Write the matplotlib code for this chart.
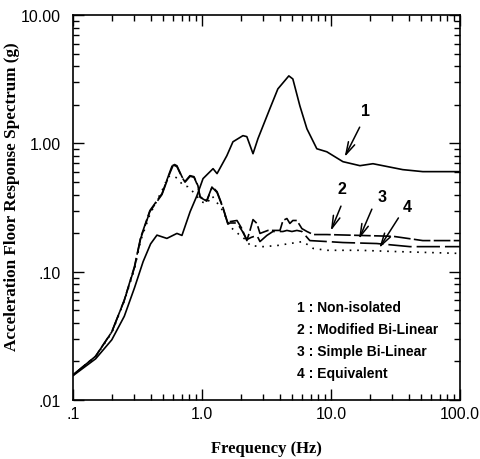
import matplotlib
matplotlib.use("Agg")
import matplotlib.pyplot as plt
from matplotlib.ticker import FixedLocator, FixedFormatter, LogLocator, NullFormatter

# 1 : Non-isolated
f1 = [0.1, 0.15, 0.2, 0.25, 0.3, 0.35, 0.40, 0.448, 0.535, 0.64, 0.70, 0.81, 0.915,
      1.02, 1.22, 1.31, 1.56, 1.74, 2.08, 2.23, 2.49, 2.72, 3.36, 3.88, 4.72, 5.07, 5.75,
      6.52, 7.78, 9.3, 12.4, 16.8, 21.2, 36.1, 51.6, 100.0]
a1 = [0.0155, 0.021, 0.0295, 0.045, 0.075, 0.12, 0.165, 0.193, 0.182, 0.199, 0.192, 0.294, 0.392,
      0.532, 0.636, 0.582, 0.802, 1.03, 1.15, 1.13, 0.832, 1.09, 1.86, 2.66, 3.36, 3.18, 1.96,
      1.30, 0.909, 0.861, 0.721, 0.671, 0.695, 0.625, 0.603, 0.603]

# 2 : Modified Bi-Linear
f2 = [0.1, 0.15, 0.2, 0.25, 0.3, 0.335, 0.395, 0.49, 0.565, 0.596, 0.64, 0.70, 0.738,
      0.808, 0.867, 0.931, 0.964, 1.09, 1.20, 1.31, 1.45, 1.59, 1.65, 1.87, 2.04, 2.23, 2.36,
      2.49, 2.67, 2.82, 3.25, 4.03, 4.25, 4.56, 4.81, 5.07, 5.45, 5.96, 6.52, 7.3, 9.3, 16.8,
      30.3, 51.6, 100.0]
a2 = [0.0157, 0.022, 0.034, 0.06, 0.11, 0.185, 0.300, 0.406, 0.603, 0.695, 0.67, 0.551, 0.504,
      0.561, 0.551, 0.469, 0.385, 0.359, 0.461, 0.421, 0.322, 0.238, 0.246, 0.251, 0.217, 0.175, 0.210,
      0.255, 0.238, 0.199, 0.210, 0.210, 0.251, 0.260, 0.238, 0.251, 0.251, 0.217, 0.206, 0.195, 0.195,
      0.192, 0.189, 0.175, 0.175]

# 3 : Simple Bi-Linear
f3 = [0.1, 0.15, 0.2, 0.25, 0.3, 0.335, 0.395, 0.49, 0.565, 0.60, 0.64, 0.70, 0.74,
      0.81, 0.87, 0.93, 0.97, 1.09, 1.20, 1.31, 1.45, 1.59, 1.65, 1.87, 2.04, 2.23, 2.40,
      2.67, 2.82, 3.19, 3.55, 4.25, 4.56, 4.99, 5.45, 5.96, 6.87, 9.3, 12.4, 22.7, 41.0, 100.0]
a3 = [0.0157, 0.022, 0.034, 0.06, 0.108, 0.182, 0.295, 0.40, 0.59, 0.68, 0.66, 0.545, 0.50,
      0.555, 0.545, 0.465, 0.38, 0.355, 0.455, 0.415, 0.318, 0.235, 0.24, 0.24, 0.21, 0.178, 0.185,
      0.192, 0.172, 0.192, 0.206, 0.206, 0.210, 0.206, 0.210, 0.206, 0.175, 0.172, 0.169, 0.166,
      0.157, 0.157]

# 4 : Equivalent
f4 = [0.1, 0.15, 0.2, 0.25, 0.3, 0.335, 0.395, 0.499, 0.547, 0.596, 0.651, 0.715, 0.779,
      0.836, 0.93, 1.0, 1.09, 1.2, 1.45, 1.65, 2.0, 2.23, 2.36, 2.97, 3.81, 4.81, 6.07, 7.3,
      9.3, 16.8, 30.3, 100.0]
a4 = [0.0156, 0.0218, 0.0335, 0.059, 0.105, 0.175, 0.28, 0.445, 0.551, 0.561, 0.532, 0.469, 0.46,
      0.429, 0.38, 0.35, 0.34, 0.39, 0.30, 0.225, 0.19, 0.175, 0.160, 0.157, 0.160, 0.166, 0.172, 0.152,
      0.147, 0.147, 0.144, 0.139]

legend_lines = ["1 : Non-isolated", "2 : Modified Bi-Linear", "3 : Simple Bi-Linear", "4 : Equivalent"]

# arrow labels: (label, text position, arrow tail, arrow tip)
arrows = [("1", (18.4, 1.80), (17.1, 1.40), (12.5, 0.75)),
          ("2", (12.2, 0.445), (12.2, 0.340), (9.8, 0.199)),
          ("3", (24.8, 0.385), (21.2, 0.322), (16.2, 0.172)),
          ("4", (38.8, 0.322), (34.3, 0.274), (23.1, 0.147))]

fig = plt.figure(figsize=(4.8, 4.6), dpi=100)
ax = fig.add_axes([0.152, 0.128, 0.806, 0.837])

ax.plot(f1, a1, color="black", lw=1.2, ls="-")
ax.plot(f2, a2, color="black", lw=1.2, ls=(0, (10, 2)))
ax.plot(f3, a3, color="black", lw=1.2, ls=(0, (14, 3)))
ax.plot(f4, a4, color="black", lw=1.2, ls=(0, (1, 3.5)))

ax.set_xscale("log")
ax.set_yscale("log")
ax.set_xlim(0.1, 100)
ax.set_ylim(0.01, 10)

ax.xaxis.set_major_locator(FixedLocator([0.1, 1, 10, 100]))
ax.xaxis.set_major_formatter(FixedFormatter([".1", "1.0", "10.0", "100.0"]))
ax.yaxis.set_major_locator(FixedLocator([0.01, 0.1, 1, 10]))
ax.yaxis.set_major_formatter(FixedFormatter([".01", ".10", "1.00", "10.00"]))
for axis in (ax.xaxis, ax.yaxis):
    axis.set_minor_locator(LogLocator(base=10, subs=range(2, 10)))
    axis.set_minor_formatter(NullFormatter())
for lab in ax.get_xticklabels() + ax.get_yticklabels():
    lab.set_fontfamily("Liberation Sans")
    lab.set_fontsize(11.5)

ax.tick_params(which="both", direction="in", top=True, right=True, width=1.0)
ax.tick_params(which="major", length=8)
ax.tick_params(axis="x", which="major", pad=4)
ax.tick_params(axis="y", which="major", pad=9)
ax.tick_params(which="minor", length=4)
for s in ax.spines.values():
    s.set_linewidth(1.2)

ax.set_xlabel("Frequency (Hz)", family="Liberation Serif", weight="bold", fontsize=12, labelpad=14)
ax.set_ylabel("Acceleration Floor Response Spectrum (g)", family="Liberation Serif",
              weight="bold", fontsize=12.3)
ax.yaxis.set_label_coords(-0.137, 0.53)

for lab, txt, tail, tip in arrows:
    ax.text(txt[0], txt[1], lab, ha="center", va="center", fontsize=11.5,
            family="Liberation Sans", weight="bold")
    ax.annotate("", xy=tip, xytext=tail,
                arrowprops=dict(arrowstyle="->,head_length=0.9,head_width=0.25", color="black", lw=1.1))

for i, line in enumerate(legend_lines):
    ax.text(0.58, 0.242 - i * 0.057, line, transform=ax.transAxes, ha="left", va="center",
            fontsize=10, family="Liberation Sans", weight="bold")

fig.savefig("out.png", dpi=100)
